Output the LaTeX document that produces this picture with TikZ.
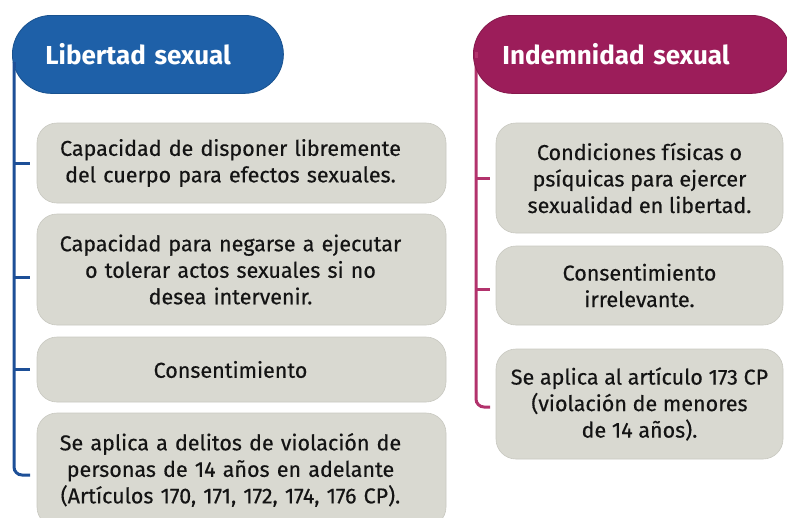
\documentclass[tikz,border=0pt]{standalone}
\usepackage{fontspec}
\setmainfont{Fira Sans}
\usepackage{tikz}
\usetikzlibrary{positioning}
\definecolor{azul}{HTML}{1E60A8}
\definecolor{azullinea}{HTML}{1D4F97}
\definecolor{vino}{HTML}{9C1D5A}
\definecolor{vinolinea}{HTML}{B2326C}
\definecolor{gris}{HTML}{D9D9D1}

\begin{document}
\begin{tikzpicture}[x=1pt,y=-1pt,
	header/.style={fill=#1, draw=#1!85!black, line width=0.8pt, rounded corners=39pt, minimum height=78pt, align=left, text=white, font=\fontsize{26}{30}\selectfont\bfseries},
	box/.style={fill=gris, draw=gris!92!black, line width=0.6pt, rounded corners=20pt, align=center, text=black!92, font=\fontsize{21.5}{26.5}\selectfont\addfontfeatures{FakeBold=0.4}},
	lbox/.style={box, minimum width=409pt, text width=380pt, execute at begin node={\leftskip=0pt plus 1fil\rightskip=22pt plus 1fil}},
	rbox/.style={box, minimum width=287pt},
	spine/.style={line width=3pt, rounded corners=8pt},
	tick/.style={line width=3pt, shorten >=#1}]

	\useasboundingbox (0,0) rectangle (787,517);

	% libertad sexual
	\coordinate (topL) at (14,62);
	\coordinate (endL) at (30,475);
	\draw[spine, azullinea] (topL) |- (endL);
	\node[header=azul, anchor=north west, inner xsep=33pt, text width=205pt] (hL) at (12,15) {Libertad sexual};
	\draw[spine, azullinea] (topL) -- ++(0,6);

	\node[lbox, minimum height=80pt] (L1) at (241.5,163) {Capacidad de disponer libremente\\del cuerpo para efectos sexuales.};
	\node[lbox, minimum height=111pt] (L2) at (241.5,269.5) {Capacidad para negarse a ejecutar\\o tolerar actos sexuales si no\\desea intervenir.};
	\node[lbox, minimum height=65pt] (L3) at (241.5,369.5) {Consentimiento};
	\node[lbox, minimum height=114pt] (L4) at (241.5,470) {Se aplica a delitos de violación de\\personas de 14 años en adelante\\(Artículos 170, 171, 172, 174, 176 CP).};

	\coordinate (tL2) at ([yshift=-8pt]L2.west);
	\draw[tick=7pt, azullinea] (topL |- L1.west) -- (L1.west);
	\draw[tick=7pt, azullinea] (topL |- tL2) -- (tL2);
	\draw[tick=7pt, azullinea] (topL |- L3.west) -- (L3.west);

	% indemnidad sexual
	\coordinate (topR) at (476,52);
	\coordinate (endR) at (490,407);
	\draw[spine, vinolinea] (topR) |- (endR);
	\node[header=vino, anchor=north west, inner xsep=29pt, text width=259pt] (hR) at (473,15) {Indemnidad sexual};
	\draw[spine, vinolinea] (topR) -- ++(0,6);

	\node[rbox, minimum height=110pt] (R1) at (639.5,178) {Condiciones físicas o\\psíquicas para ejercer\\sexualidad en libertad.};
	\node[rbox, minimum height=79pt] (R2) at (639.5,285.5) {Consentimiento\\irrelevante.};
	\node[rbox, minimum height=110pt] (R3) at (639.5,404) {Se aplica al artículo 173 CP\\(violación de menores\\de 14 años).};

	\coordinate (tR2) at ([yshift=-4pt]R2.west);
	\draw[tick=6pt, vinolinea] (topR |- R1.west) -- (R1.west);
	\draw[tick=6pt, vinolinea] (topR |- tR2) -- (tR2);
\end{tikzpicture}
\end{document}
